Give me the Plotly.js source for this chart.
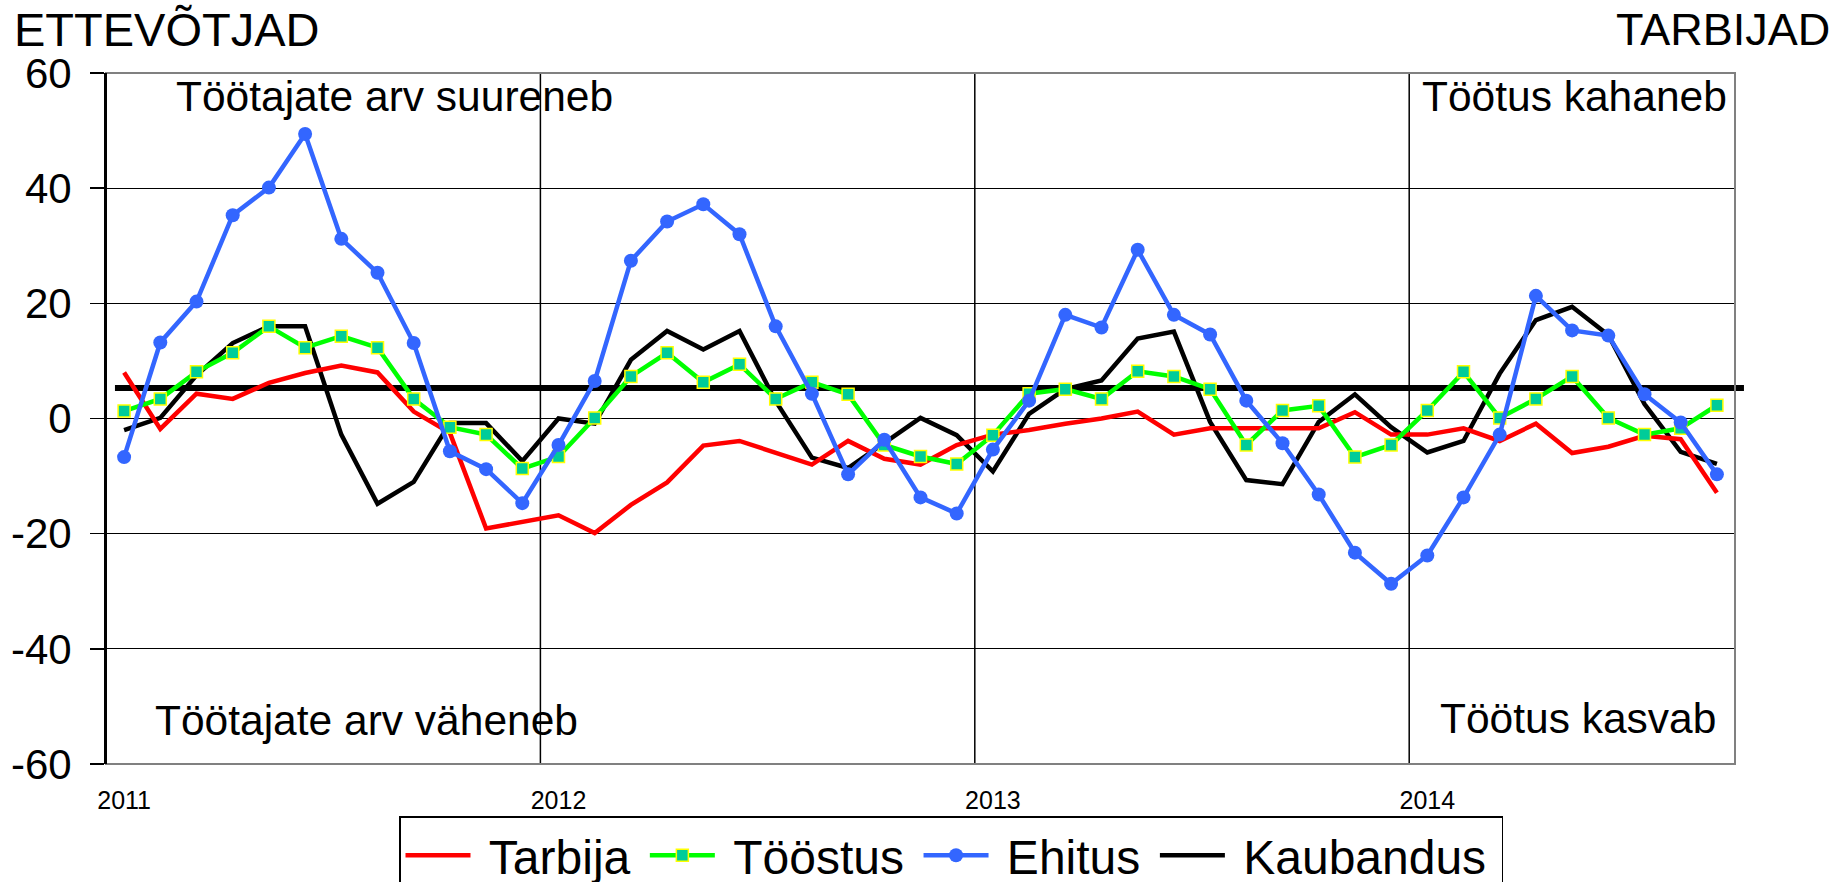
<!DOCTYPE html>
<html><head><meta charset="utf-8">
<script src="https://cdn.plot.ly/plotly-3.0.1.min.js"></script>
<style>html,body{margin:0;padding:0;background:#fff}#chart{width:1841px;height:882px}</style>
</head><body><div id="chart"></div>
<script>
// ---- data ----
const months = ['2011-01','2011-02','2011-03','2011-04','2011-05','2011-06','2011-07','2011-08','2011-09','2011-10','2011-11','2011-12',
  '2012-01','2012-02','2012-03','2012-04','2012-05','2012-06','2012-07','2012-08','2012-09','2012-10','2012-11','2012-12',
  '2013-01','2013-02','2013-03','2013-04','2013-05','2013-06','2013-07','2013-08','2013-09','2013-10','2013-11','2013-12',
  '2014-01','2014-02','2014-03','2014-04','2014-05','2014-06','2014-07','2014-08','2014-09'];
const yearTicks = ['2011-01','2012-01','2013-01','2014-01'];
const yearLabels = ['2011','2012','2013','2014'];
const yearBoundaries = [11.5, 23.5, 35.5];
const yTicks = [-60,-40,-20,0,20,40,60];
const yTickLabels = ['-60','-40','-20','0','20','40','60'];

const tarbija = [8.0,-1.8,4.3,3.4,6.2,7.9,9.2,8.0,1.2,-2.5,-19.1,-17.9,
  -16.8,-19.9,-15.0,-11.1,-4.7,-3.9,-5.9,-8.0,-3.9,-7.0,-8.0,-4.6,
  -2.8,-2.0,-0.9,0.0,1.2,-2.8,-1.7,-1.7,-1.7,-1.7,1.1,-2.8,
  -2.8,-1.7,-3.9,-0.9,-6.0,-4.9,-3.0,-3.6,-12.9];
const toostus = [1.3,3.4,8.1,11.4,16.0,12.3,14.3,12.3,3.4,-1.5,-2.8,-8.7,
  -6.6,0.1,7.3,11.4,6.3,9.4,3.4,6.3,4.2,-4.6,-6.6,-7.9,
  -2.9,4.3,5.1,3.4,8.2,7.3,5.1,-4.6,1.4,2.2,-6.7,-4.6,
  1.4,8.1,0.1,3.4,7.3,0.1,-2.8,-1.7,2.3];
const ehitus = [-6.7,13.2,20.3,35.3,40.1,49.4,31.2,25.3,13.1,-5.7,-8.8,-14.7,
  -4.6,6.5,27.4,34.2,37.2,32.0,16.0,4.3,-9.7,-3.7,-13.7,-16.5,
  -5.4,3.1,18.0,15.8,29.3,18.0,14.6,3.1,-4.3,-13.2,-23.3,-28.7,
  -23.8,-13.7,-2.8,21.3,15.3,14.4,4.2,-0.7,-9.7];
const kaubandus = [-2.0,0.1,7.5,13.1,16.0,16.0,-2.8,-14.8,-11.0,-0.8,-0.8,-7.4,
  0.0,-0.9,10.2,15.2,12.0,15.2,3.0,-6.8,-8.6,-4.3,0.1,-2.9,
  -9.2,0.8,5.1,6.6,13.9,15.1,-0.6,-10.7,-11.4,-0.6,4.2,-1.5,
  -5.9,-3.9,7.8,17.1,19.4,14.5,2.5,-5.8,-7.9];
const consumerAxisLevel = 5.3;

// ---- layout helpers ----
const W = 1841, H = 882;
const M = {l: 106, r: 106, t: 73, b: 118};
const PW = W - M.l - M.r, PH = H - M.t - M.b;
const px = X => (X - M.l) / PW;
const py = Y => (H - M.b - Y) / PH;
const FONT = 'Liberation Sans, Arial, sans-serif';
const legendName = s => '\u00A0' + s + '\u2009';

const traces = [
  {name: legendName('Kaubandus'), x: months, y: kaubandus, type: 'scatter', mode: 'lines',
   line: {color: '#000000', width: 4.5}, legendrank: 4},
  {name: legendName('Tarbija'), x: months, y: tarbija, type: 'scatter', mode: 'lines',
   line: {color: '#FF0000', width: 4.5}, legendrank: 1},
  {name: legendName('Tööstus'), x: months, y: toostus, type: 'scatter', mode: 'lines+markers',
   line: {color: '#00FF00', width: 4.5},
   marker: {symbol: 'square', size: 12, color: '#00CC99', line: {color: '#FFFF00', width: 1.5}}, legendrank: 2},
  {name: legendName('Ehitus'), x: months, y: ehitus, type: 'scatter', mode: 'lines+markers',
   line: {color: '#3366FF', width: 4.5},
   marker: {symbol: 'circle', size: 14, color: '#3366FF'}, legendrank: 3}
];

const shapes = yearBoundaries.map(b => ({
  type: 'line', xref: 'x', yref: 'paper', x0: b, x1: b, y0: 0, y1: 1,
  line: {color: '#000', width: 1.5}, layer: 'below'
}));
shapes.push({type: 'line', xref: 'paper', yref: 'y', x0: 0.0055, x1: 1.0055,
  y0: consumerAxisLevel, y1: consumerAxisLevel, line: {color: '#000', width: 6}, layer: 'below'});
shapes.push({type: 'rect', xref: 'paper', yref: 'paper', x0: 0, x1: 1, y0: 0, y1: 1,
  line: {color: '#808080', width: 2}, layer: 'above'});
shapes.push({type: 'line', xref: 'paper', yref: 'paper', x0: 0, x1: 0, y0: 0, y1: 1,
  line: {color: '#000', width: 2}, layer: 'above'});

const ann = (text, X, Y, xa, size) => ({text, xref: 'paper', yref: 'paper', x: px(X), y: py(Y),
  xanchor: xa, yanchor: 'middle', showarrow: false, font: {family: FONT, size: size, color: '#000'}});

const layout = {
  width: W, height: H,
  margin: {l: M.l, r: M.r, t: M.t, b: M.b, autoexpand: false},
  paper_bgcolor: '#fff', plot_bgcolor: 'rgba(0,0,0,0)',
  font: {family: FONT, color: '#000'},
  showlegend: true,
  legend: {orientation: 'h', x: px(399), y: py(816), xanchor: 'left', yanchor: 'top',
    bgcolor: '#fff', bordercolor: '#000', borderwidth: 1.5,
    font: {family: FONT, size: 48, color: '#000'}, itemwidth: 65, traceorder: 'normal'},
  xaxis: {type: 'category', range: [-0.5, 44.5], tickmode: 'array', tickvals: yearTicks, ticktext: yearLabels,
    showgrid: false, zeroline: false, showline: false, ticks: '', ticklabelstandoff: 19,
    tickfont: {family: FONT, size: 25, color: '#000'}, fixedrange: true},
  yaxis: {range: [-60, 60], tickmode: 'array', tickvals: yTicks, ticktext: yTickLabels,
    showgrid: true, gridcolor: '#000', gridwidth: 1.3,
    zeroline: false, showline: true, linecolor: '#000', linewidth: 2, ticks: 'outside', ticklen: 14,
    tickcolor: '#000', tickwidth: 1.5, ticklabelstandoff: 10,
    tickfont: {family: FONT, size: 42, color: '#000'}, fixedrange: true},
  shapes: shapes,
  annotations: [
    ann('ETTEVÕTJAD', 11.7, 29, 'left', 47),
    ann('TARBIJAD', 1832, 29, 'right', 45),
    ann('Töötajate arv suureneb', 174, 96, 'left', 42.5),
    ann('Töötus kahaneb', 1729, 96, 'right', 42.5),
    ann('Töötajate arv väheneb', 153, 720, 'left', 42.5),
    ann('Töötus kasvab', 1718, 718, 'right', 42.5)
  ]
};

Plotly.newPlot('chart', traces, layout, {displayModeBar: false, staticPlot: true});
</script>
</body></html>
